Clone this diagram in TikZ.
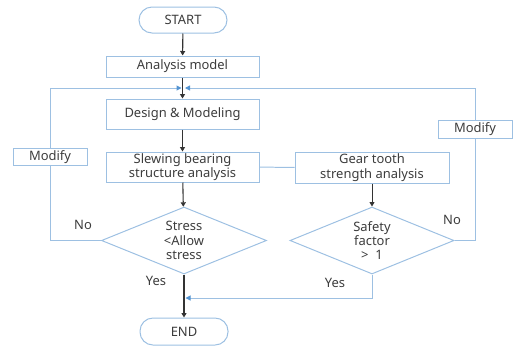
\documentclass[tikz,border=0pt]{standalone}
\usepackage{fontspec}
\setmainfont{Noto Sans}
\usetikzlibrary{shapes.geometric,arrows.meta}
\definecolor{boxblue}{RGB}{157,192,226}
\definecolor{tipblue}{RGB}{84,148,210}
\definecolor{txtgray}{RGB}{60,60,60}
\tikzset{every node/.style={font=\fontsize{13}{14.5}\selectfont, text=txtgray},
	box/.style={draw=boxblue, line width=1pt, rectangle, inner sep=0pt, align=center},
	term/.style={box, rounded corners=13bp},
	test/.style={draw=boxblue, line width=1pt, diamond, aspect=2.5, inner sep=0pt, align=center},
	flow/.style={-{Triangle[length=4.5bp,width=5bp]}, line width=1.1pt, draw=black!80},
	back/.style={draw=boxblue, line width=1pt},
	backtip/.style={back, -{Triangle[length=5bp,width=5bp,fill=tipblue,color=tipblue]}}}

\begin{document}
\begin{tikzpicture}[x=1bp,y=-1bp]
		\useasboundingbox (0,0) rectangle (516,347);
		% main column
		\node[term, minimum width=88bp, minimum height=26bp] (start) at (183,20){START};
		\node[box, minimum width=153bp, minimum height=21bp] (model) at (182.5,66.5){Analysis model};
		\node[box, minimum width=153bp, minimum height=30bp] (design) at (182.5,114){Design \& Modeling};
		\node[box, minimum width=153bp, minimum height=30bp] (slew) at (182.5,167){Slewing bearing\\structure analysis};
		\node[box, minimum width=154bp, minimum height=31bp] (gear) at (372,167.5){Gear tooth\\strength analysis};
		\node[test, minimum width=165bp, minimum height=67bp] (stress) at (184,240.5){Stress\\<Allow\\stress};
		\node[test, minimum width=164bp, minimum height=67bp] (safety) at (372,240.5){Safety\\factor\\>\ \ 1};
		\node[term, minimum width=88bp, minimum height=27bp] (end) at (184,331.5){END};
		% side boxes
		\node[box, minimum width=74bp, minimum height=17bp] (modl) at (50,157){Modify};
		\node[box, minimum width=74bp, minimum height=18bp] (modr) at (475,129){Modify};
		\coordinate (ml) at (181.5,88);
		\coordinate (mr) at (185,88);
		\coordinate (join) at (185.5,298);
		% labels
		\node (nol) at (83,225){No};
		\node (nor) at (452,220){No};
		\node (yesl) at (156,281){Yes};
		\node (yesr) at (335,283){Yes};
		% connectors
		\draw[back] (slew) -- (gear);
		\draw[back] (stress.west) -| (modl.south);
		\draw[backtip] (modl.north) |- (ml);
		\draw[back] (safety.east) -| (modr.south);
		\draw[backtip] (modr.north) |- (mr);
		\draw[backtip] (safety.south) |- (join);
		\draw[flow] (start) -- (model);
		\draw[flow] (model) -- (design);
		\draw[flow] (design) -- (slew);
		\draw[flow] (slew) -- (stress);
		\draw[flow, line width=0.8pt] (gear) -- (safety);
		\draw[flow] (stress) -- (end);
\end{tikzpicture}
\end{document}
